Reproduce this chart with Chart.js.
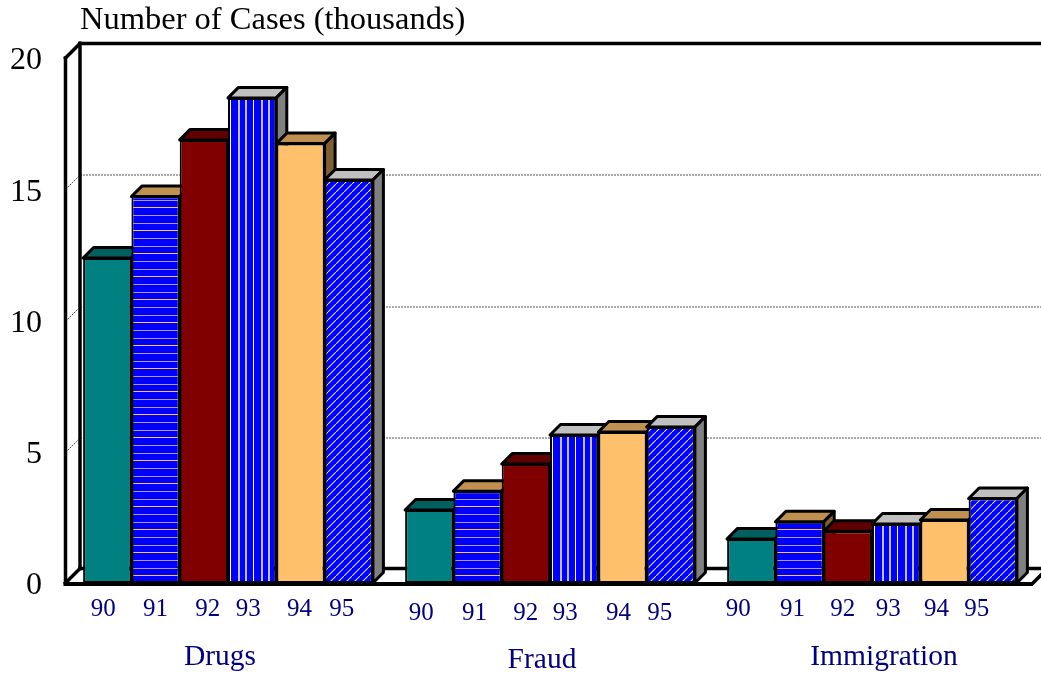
<!DOCTYPE html>
<html>
<head>
<meta charset="utf-8">
<title>Number of Cases</title>
<script src="https://cdn.jsdelivr.net/npm/chart.js@4"></script>
<style>
    html, body { margin: 0; padding: 0; background: #ffffff; }
    canvas { display: block; }
</style>
</head>
<body>
<canvas id="myChart" width="1041" height="677"></canvas>
<script>
// Chart data, one array per year, in the order of the categories
const categories = ['Drugs', 'Fraud', 'Immigration'];
const years = ['90', '91', '92', '93', '94', '95'];
const cases90 = [12.38, 2.78, 1.68];
const cases91 = [14.72, 3.5, 2.33];
const cases92 = [16.88, 4.53, 1.97];
const cases93 = [18.48, 5.64, 2.25];
const cases94 = [16.74, 5.75, 2.4];
const cases95 = [15.35, 5.94, 3.22];
const yTicks = [0, 5, 10, 15, 20];
const axisTitle = 'Number of Cases (thousands)';

// Depth of the 3D effect in pixels
const wallDepth = 14.5;
const barDepth = 10.5;

// The labels in the picture are not quite centred, so nudge each one
const yearNudgeX = [
    [-4, 0, 4, -4, -1, -7],
    [-8, -3, 0, -9, -4, -11],
    [-13, -7, -5, -8, -8, -16]
];
const yearY = [609, 613, 609];
const categoryNudgeX = [-8, -8, 12];
const categoryY = [657, 660, 657];

const serif = '"Liberation Serif", "Times New Roman", serif';
const navy = '#000080';

// Build a repeating tile to use as a bar fill
function makeTile(width, height, drawTile) {
    const tile = document.createElement('canvas');
    tile.width = width;
    tile.height = height;
    const tileCtx = tile.getContext('2d');
    tileCtx.fillStyle = '#0000ff';
    tileCtx.fillRect(0, 0, width, height);
    drawTile(tileCtx);
    return tileCtx.createPattern(tile, 'repeat');
}

const ctx = document.getElementById('myChart').getContext('2d');

const horizontalFill = makeTile(8, 23, t => {
    t.fillStyle = '#ffc06c';
    t.fillRect(0, 0, 8, 1);
    t.fillStyle = '#b098c0';
    t.fillRect(0, 8, 8, 1);
    t.fillRect(0, 16, 8, 1);
});
const verticalFill = makeTile(23, 8, t => {
    t.fillStyle = '#ffffff';
    t.fillRect(0, 0, 1, 8);
    t.fillStyle = '#c0c0ff';
    t.fillRect(8, 0, 2, 8);
    t.fillRect(15, 0, 2, 8);
});
const diagonalFill = makeTile(8, 8, t => {
    t.strokeStyle = '#d8d8ff';
    t.lineWidth = 1.1;
    t.beginPath();
    t.moveTo(-2, 10);
    t.lineTo(10, -2);
    t.stroke();
});

// Colours of the front, top and side faces, one entry per year
const frontColors = ['#008080', horizontalFill, '#800000', verticalFill, '#ffc06c', diagonalFill];
const topColors = ['#006060', '#c09050', '#600000', '#c0c0c0', '#c09050', '#c0c0c0'];
const sideColors = ['#004040', '#806030', '#400000', '#808080', '#806030', '#808080'];

function polygon(c, points, fill) {
    c.beginPath();
    points.forEach((p, i) => {
        if (i === 0) {
            c.moveTo(p[0], p[1]);
        } else {
            c.lineTo(p[0], p[1]);
        }
    });
    c.closePath();
    c.fillStyle = fill;
    c.fill();
    c.stroke();
}

function line(c, x1, y1, x2, y2) {
    c.beginPath();
    c.moveTo(x1, y1);
    c.lineTo(x2, y2);
    c.stroke();
}

// Back wall, floor and the dotted lines behind the bars
const framePlugin = {
    id: 'frame',
    beforeDatasetsDraw(chart) {
        const c = chart.ctx;
        const area = chart.chartArea;
        const yScale = chart.scales.y;
        // The frame sits a little left of the scale's own start
        const left = area.left - 1.5;
        c.save();

        // Dotted lines sit on the back wall, with a small step to the front
        c.strokeStyle = '#555555';
        c.lineWidth = 1;
        c.setLineDash([2, 1]);
        yTicks.slice(1, -1).forEach(value => {
            const y = Math.round(yScale.getPixelForValue(value)) + 0.5;
            line(c, left + wallDepth, y - wallDepth, chart.width, y - wallDepth);
            line(c, left, y, left + wallDepth, y - wallDepth);
        });
        c.setLineDash([]);

        c.strokeStyle = '#000000';
        c.lineWidth = 3.5;
        c.lineCap = 'square';
        line(c, left + wallDepth, area.top - wallDepth, chart.width, area.top - wallDepth);
        line(c, left + wallDepth, area.top - wallDepth, left + wallDepth, area.bottom - wallDepth);
        line(c, left, area.top, left, area.bottom);
        line(c, left, area.top, left + wallDepth, area.top - wallDepth);
        line(c, left, area.bottom, left + wallDepth, area.bottom - wallDepth);
        line(c, left + wallDepth, area.bottom - wallDepth, chart.width, area.bottom - wallDepth);
        line(c, area.right, area.bottom, area.right + wallDepth, area.bottom - wallDepth);
        c.restore();

        // Draw the bars left to right, so each one covers the side of the last
        chart.data.datasets.forEach((dataset, i) => {
            const meta = chart.getDatasetMeta(i);
            c.save();
            c.strokeStyle = '#000000';
            c.lineWidth = 3;
            c.lineJoin = 'round';
            meta.data.forEach(bar => {
                const barLeft = bar.x - bar.width / 2;
                const barRight = bar.x + bar.width / 2;
                polygon(c, [
                    [barLeft, bar.y],
                    [barLeft + barDepth, bar.y - barDepth],
                    [barRight + barDepth, bar.y - barDepth],
                    [barRight, bar.y]
                ], topColors[i]);
                polygon(c, [
                    [barRight, bar.y],
                    [barRight + barDepth, bar.y - barDepth],
                    [barRight + barDepth, bar.base - barDepth],
                    [barRight, bar.base]
                ], sideColors[i]);
            });
            c.restore();
            meta.controller.draw();
        });

        // Front floor line goes over the feet of the bars
        c.save();
        c.strokeStyle = '#000000';
        c.lineWidth = 4;
        line(c, left - 2, area.bottom + 1, area.right, area.bottom + 1);
        c.restore();

        // Returning false stops Chart.js drawing the bars a second time
        return false;
    },
    afterDraw(chart) {
        const c = chart.ctx;
        c.save();
        c.textBaseline = 'middle';
        c.textAlign = 'left';
        c.fillStyle = '#000000';
        c.font = '32.5px ' + serif;
        c.fillText(axisTitle, 80, 20);

        c.textAlign = 'center';
        c.fillStyle = navy;
        categories.forEach((category, g) => {
            c.font = '25px ' + serif;
            years.forEach((year, i) => {
                const bar = chart.getDatasetMeta(i).data[g];
                c.fillText(year, bar.x + yearNudgeX[g][i], yearY[g]);
            });
            c.font = '29.5px ' + serif;
            c.fillText(category, chart.scales.x.getPixelForValue(g) + categoryNudgeX[g], categoryY[g]);
        });
        c.restore();
    }
};

const datasets = [cases90, cases91, cases92, cases93, cases94, cases95].map((values, i) => ({
    label: years[i],
    data: values,
    backgroundColor: frontColors[i],
    borderColor: '#000000',
    borderWidth: 2,
    borderSkipped: false
}));

new Chart(ctx, {
    type: 'bar',
    data: { labels: categories, datasets: datasets },
    plugins: [framePlugin],
    options: {
        responsive: false,
        animation: false,
        categoryPercentage: 0.9,
        barPercentage: 1,
        layout: { padding: { top: 58, right: 8, left: 0, bottom: 0 } },
        plugins: {
            legend: { display: false },
            tooltip: { enabled: false }
        },
        scales: {
            x: {
                grid: { display: false },
                border: { display: false },
                ticks: { display: false },
                afterFit: scale => { scale.height = 94; }
            },
            y: {
                min: 0,
                max: 20,
                grid: { display: false, drawTicks: false },
                border: { display: false },
                afterBuildTicks: scale => { scale.ticks = yTicks.map(value => ({ value: value })); },
                ticks: {
                    color: '#000000',
                    padding: 25,
                    labelOffset: 3,
                    font: { family: serif, size: 32 }
                },
                afterFit: scale => { scale.width = 67; }
            }
        }
    }
});
</script>
</body>
</html>
